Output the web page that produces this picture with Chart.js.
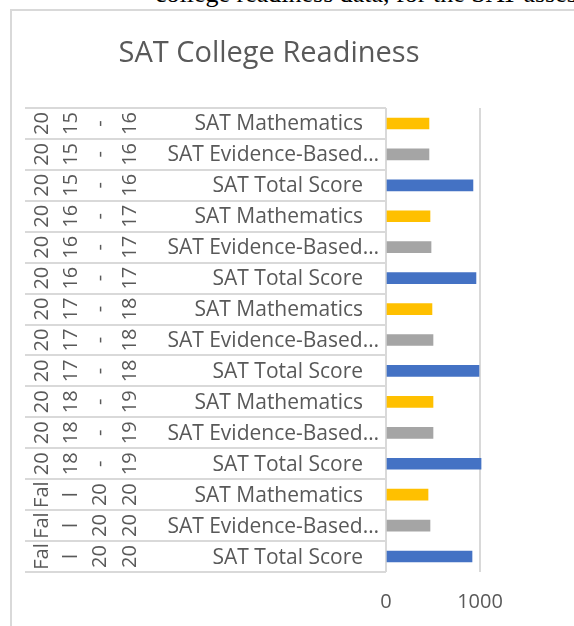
<!DOCTYPE html>
<html>
<head>
<meta charset="utf-8">
<script src="https://cdn.jsdelivr.net/npm/chart.js@4.4.1/dist/chart.umd.min.js"></script>
<style>
  html, body { margin: 0; padding: 0; background: #fff; overflow: hidden; }
  #doc-text {
    position: absolute; left: 155px; top: -21px; white-space: nowrap;
    font: 26px "Liberation Serif", "Times New Roman", serif; color: #000;
  }
  #chart-box {
    position: absolute; left: 10px; top: 9px; width: 600px; height: 640px;
    border-left: 2px solid #d9d9d9; border-top: 2px solid #d9d9d9;
  }
  #wrap { position: absolute; left: 0; top: 0; width: 574px; height: 626px; }
</style>
</head>
<body>
<div id="doc-text">college readiness data, for the SAT assessment</div>
<div id="chart-box"></div>
<div id="wrap"><canvas id="sat-chart" width="574" height="626"></canvas></div>
<script>
// données (de haut en bas)
const years = [
  "2015 - 16", "2015 - 16", "2015 - 16",
  "2016 - 17", "2016 - 17", "2016 - 17",
  "2017 - 18", "2017 - 18", "2017 - 18",
  "2018 - 19", "2018 - 19", "2018 - 19",
  "Fall 2020", "Fall 2020", "Fall 2020"
];
const subjects = [
  "SAT Mathematics", "SAT Evidence-Based Reading and Writing", "SAT Total Score",
  "SAT Mathematics", "SAT Evidence-Based Reading and Writing", "SAT Total Score",
  "SAT Mathematics", "SAT Evidence-Based Reading and Writing", "SAT Total Score",
  "SAT Mathematics", "SAT Evidence-Based Reading and Writing", "SAT Total Score",
  "SAT Mathematics", "SAT Evidence-Based Reading and Writing", "SAT Total Score"
];
const scores = [457, 457, 925, 468, 479, 957, 489, 500, 989, 500, 500, 1011, 447, 468, 915];
const xTicks = [0, 1000];

const colorBySubject = {
  "SAT Mathematics": "#FFC000",
  "SAT Evidence-Based Reading and Writing": "#A5A5A5",
  "SAT Total Score": "#4472C4"
};
const textColor = "#595959";
const lineColor = "#d9d9d9";
const FONT = '"Open Sans", sans-serif';

// coupe un texte trop long avec "…"
function truncate(ctx, text, maxW) {
  if (ctx.measureText(text).width <= maxW) return text;
  let t = text;
  while (t.length > 0 && ctx.measureText(t + "…").width > maxW) t = t.slice(0, -1);
  return t.replace(/\s+$/, "") + "…";
}

// découpe caractère par caractère pour tenir dans la hauteur d'une ligne
function wrapChars(ctx, text, maxW) {
  const lines = [];
  text.split(" ").forEach(word => {
    let cur = "";
    for (const ch of word) {
      if (cur && ctx.measureText(cur + ch).width > maxW) { lines.push(cur); cur = ch; }
      else cur += ch;
    }
    if (cur) lines.push(cur);
  });
  return lines;
}

const labelsPlugin = {
  id: "excelLabels",
  afterDraw(chart) {
    const ctx = chart.ctx;
    const y = chart.scales.y;
    const area = chart.chartArea;
    const rowH = (area.bottom - area.top) / subjects.length;

    ctx.save();
    // titre
    ctx.fillStyle = textColor;
    ctx.font = "29px " + FONT;
    ctx.textAlign = "center";
    ctx.textBaseline = "alphabetic";
    ctx.fillText("SAT College Readiness", 269, 62);

    // séparateurs
    ctx.strokeStyle = lineColor;
    ctx.lineWidth = 2;
    for (let i = 0; i <= subjects.length; i++) {
      const py = Math.round(area.top + i * rowH);
      ctx.beginPath();
      ctx.moveTo(25, py);
      ctx.lineTo(area.left, py);
      ctx.stroke();
    }

    ctx.font = "21px " + FONT;
    ctx.fillStyle = textColor;
    ctx.textBaseline = "middle";
    subjects.forEach((s, i) => {
      const cy = y.getPixelForValue(i);
      ctx.textAlign = "right";
      if (ctx.measureText(s).width <= 190) {
        ctx.fillText(s, 363, cy + 1);
      } else {
        ctx.fillText(truncate(ctx, s, 212), 379, cy + 1);
      }
    });

    // années, texte pivoté
    ctx.font = "20px " + FONT;
    years.forEach((yr, i) => {
      const cy = y.getPixelForValue(i);
      const lines = wrapChars(ctx, yr, 30);
      lines.forEach((ln, k) => {
        ctx.save();
        ctx.translate(42 + k * 29.3, cy);
        ctx.rotate(-Math.PI / 2);
        ctx.textAlign = "center";
        ctx.textBaseline = "middle";
        ctx.fillText(ln, 0, 0);
        ctx.restore();
      });
    });
    ctx.restore();
  }
};

const ctx = document.getElementById("sat-chart").getContext("2d");
new Chart(ctx, {
  type: "bar",
  data: {
    labels: subjects.map((s, i) => years[i] + " " + s),
    datasets: [{
      data: scores,
      backgroundColor: subjects.map(s => colorBySubject[s]),
      barThickness: 11
    }]
  },
  options: {
    indexAxis: "y",
    responsive: false,
    animation: false,
    layout: { padding: { left: 386, top: 108, right: 0, bottom: 0 } },
    plugins: { legend: { display: false }, tooltip: { enabled: false }, title: { display: false } },
    scales: {
      y: { display: false },
      x: {
        min: 0,
        max: 2000,
        afterFit: s => { s.height = 54; s.paddingLeft = 0; s.paddingRight = 0; },
        afterBuildTicks: s => { s.ticks = [...xTicks, 2000].map(v => ({ value: v })); },
        ticks: {
          color: textColor,
          font: { family: FONT, size: 20 },
          padding: 18,
          maxRotation: 0,
          callback: v => (xTicks.includes(v) ? String(v) : "")
        },
        grid: {
          color: c => (c.tick && xTicks.includes(c.tick.value) ? lineColor : "rgba(0,0,0,0)"),
          lineWidth: 2,
          drawTicks: false
        },
        border: { display: false }
      }
    }
  },
  plugins: [labelsPlugin]
});
</script>
</body>
</html>
